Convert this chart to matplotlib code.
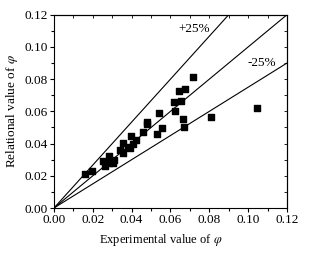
import numpy as np
import matplotlib
matplotlib.use('Agg')
import matplotlib.pyplot as plt
from matplotlib.ticker import MultipleLocator

# Experimental vs. relational values
experimental = [0.0161, 0.0194, 0.0254, 0.0263, 0.0285, 0.0283, 0.0306, 0.0311,
                0.0340, 0.0357, 0.0357, 0.0383, 0.0391, 0.0398, 0.0409, 0.0424,
                0.0460, 0.0481, 0.0481, 0.0530, 0.0539, 0.0558, 0.0618, 0.0621,
                0.0645, 0.0656, 0.0673, 0.0666, 0.0668, 0.0718, 0.0810, 0.1047]
relational = [0.0211, 0.0230, 0.0290, 0.0259, 0.0321, 0.0277, 0.0281, 0.0300,
              0.0358, 0.0406, 0.0339, 0.0381, 0.0374, 0.0447, 0.0395, 0.0424,
              0.0472, 0.0521, 0.0534, 0.0457, 0.0588, 0.0499, 0.0658, 0.0602,
              0.0726, 0.0664, 0.0741, 0.0550, 0.0503, 0.0815, 0.0563, 0.0619]

# error band slopes
slopes = [1 / 0.75, 1.0, 0.75]
band_labels = ['+25%', '-25%']

plt.rcParams['font.family'] = ['Liberation Serif', 'DejaVu Serif']
plt.rcParams['mathtext.fontset'] = 'stix'

fig = plt.figure(figsize=(3.21, 2.54), dpi=100)
ax = fig.add_axes([0.168, 0.181, 0.726, 0.761])

xs = np.array([0.0, 0.12])
for s in slopes:
    ax.plot(xs, s * xs, color='black', linewidth=0.8)

ax.scatter(experimental, relational, marker='s', s=14, color='black', zorder=3)

ax.text(0.0721, 0.111, band_labels[0], fontsize=9.5, ha='center', va='center')
ax.text(0.107, 0.090, band_labels[1], fontsize=9.5, ha='center', va='center')

ax.set_xlim(0, 0.12)
ax.set_ylim(0, 0.12)
ax.xaxis.set_major_locator(MultipleLocator(0.02))
ax.xaxis.set_minor_locator(MultipleLocator(0.01))
ax.yaxis.set_major_locator(MultipleLocator(0.02))
ax.yaxis.set_minor_locator(MultipleLocator(0.01))
ax.xaxis.set_major_formatter(plt.FormatStrFormatter('%.2f'))
ax.yaxis.set_major_formatter(plt.FormatStrFormatter('%.2f'))
ax.tick_params(which='both', direction='out', labelsize=9.5, width=0.8, pad=1.5)
ax.tick_params(which='major', length=3)
ax.tick_params(which='minor', length=2)

# small inward ticks on the top and right frame
axt = ax.secondary_xaxis('top')
axt.xaxis.set_major_locator(MultipleLocator(0.02))
axt.xaxis.set_minor_locator(MultipleLocator(0.01))
axt.tick_params(which='both', direction='in', length=2, width=0.6, labeltop=False)
axr = ax.secondary_yaxis('right')
axr.yaxis.set_major_locator(MultipleLocator(0.02))
axr.yaxis.set_minor_locator(MultipleLocator(0.01))
axr.tick_params(which='both', direction='in', length=2, width=0.6, labelright=False)

for sp in ax.spines.values():
    sp.set_linewidth(0.8)

ax.set_xlabel(r'Experimental value of $\varphi$', fontsize=9)
ax.xaxis.set_label_coords(0.46, -0.125)
ax.set_ylabel(r'Relational value of $\varphi$', fontsize=9.5, labelpad=3)

fig.savefig('out.png', dpi=100)
